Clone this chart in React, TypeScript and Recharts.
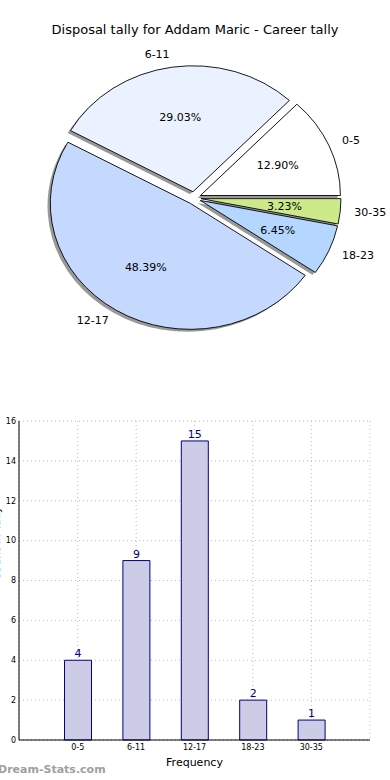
import React from 'react';
import { PieChart, Pie, BarChart, Bar, XAxis, YAxis, CartesianGrid, LabelList } from 'recharts';

const categories = ['0-5', '6-11', '12-17', '18-23', '30-35'];
const counts = [4, 9, 15, 2, 1];
const sliceColors = ['#FFFFFF', '#EBF2FF', '#C5D9FF', '#B4D6FF', '#CDEA8A'];
const yTicks = [0, 2, 4, 6, 8, 10, 12, 14, 16];

const pieData = categories.map((name, i) => ({ name, count: counts[i], fill: sliceColors[i] }));
const barData = categories.map((name, i) => ({ name, count: counts[i] }));

const FONT = '"DejaVu Sans", sans-serif';
const RAD = Math.PI / 180;
const SCALE_Y = 0.9;
const EXPLODE = 7;

function explodeCenter(cx: number, cy: number, mid: number) {
  return [cx + EXPLODE * Math.cos(mid * RAD), cy - EXPLODE * SCALE_Y * Math.sin(mid * RAD)];
}

function sectorPath(cx: number, cy: number, r: number, start: number, end: number, ox: number, oy: number) {
  const mid = (start + end) / 2;
  const [ex0, ey0] = explodeCenter(cx, cy, mid);
  const ex = ex0 + ox;
  const ey = ey0 + oy;
  const rx = r;
  const ry = r * SCALE_Y;
  const x1 = ex + rx * Math.cos(start * RAD);
  const y1 = ey - ry * Math.sin(start * RAD);
  const x2 = ex + rx * Math.cos(end * RAD);
  const y2 = ey - ry * Math.sin(end * RAD);
  const large = Math.abs(end - start) > 180 ? 1 : 0;
  return `M${ex},${ey} L${x1},${y1} A${rx},${ry} 0 ${large} 0 ${x2},${y2} Z`;
}

const SliceShape = (props: any) => {
  const { cx, cy, outerRadius, startAngle, endAngle, fill } = props;
  return (
    <path
      d={sectorPath(cx, cy, outerRadius, startAngle, endAngle, 0, 0)}
      fill={fill}
      stroke="#000"
      strokeWidth={0.9}
      strokeLinejoin="round"
    />
  );
};

const ShadowShape = (props: any) => {
  const { cx, cy, outerRadius, startAngle, endAngle } = props;
  return (
    <path
      d={sectorPath(cx, cy, outerRadius, startAngle, endAngle, -2.8, 2.5)}
      fill="#000"
      fillOpacity={0.4}
      stroke="none"
    />
  );
};

const renderLabel = (props: any) => {
  const { cx, cy, outerRadius, midAngle, percent, name } = props;
  const [ex, ey] = explodeCenter(cx, cy, midAngle);
  const rx = outerRadius;
  const ry = outerRadius * SCALE_Y;
  const px = ex + 0.6 * rx * Math.cos(midAngle * RAD);
  const py = ey - 0.6 * ry * Math.sin(midAngle * RAD);
  const lx = ex + 1.1 * rx * Math.cos(midAngle * RAD);
  const ly = ey - 1.1 * ry * Math.sin(midAngle * RAD);
  const anchor = lx > ex ? 'start' : 'end';
  return (
    <g>
      <text x={px} y={py} textAnchor="middle" dominantBaseline="central" fontSize={11} fontFamily={FONT} fill="#000">
        {(percent * 100).toFixed(2) + '%'}
      </text>
      <text x={lx} y={ly} textAnchor={anchor} dominantBaseline="central" fontSize={11} fontFamily={FONT} fill="#000">
        {name}
      </text>
    </g>
  );
};

export default function App() {
  return (
    <div style={{ position: 'absolute', left: 0, top: 0, width: 390, height: 780, background: '#fff', overflow: 'hidden', fontFamily: FONT }}>
      <div style={{ position: 'absolute', left: 0, top: 22, width: 390, textAlign: 'center', fontSize: 13, fontFamily: FONT, color: '#000' }}>
        Disposal tally for Addam Maric - Career tally
      </div>
      <div style={{ position: 'absolute', left: 0, top: 0 }}>
        <PieChart width={390} height={400} margin={{ top: 0, right: 0, bottom: 0, left: 0 }}>
          <Pie
            data={pieData}
            dataKey="count"
            nameKey="name"
            cx={194}
            cy={198}
            outerRadius={140}
            startAngle={0}
            endAngle={360}
            shape={ShadowShape}
            activeShape={ShadowShape}
            inactiveShape={ShadowShape}
            label={false}
            labelLine={false}
            isAnimationActive={false}
          />
          <Pie
            data={pieData}
            dataKey="count"
            nameKey="name"
            cx={194}
            cy={198}
            outerRadius={140}
            startAngle={0}
            endAngle={360}
            shape={SliceShape}
            activeShape={SliceShape}
            inactiveShape={SliceShape}
            label={renderLabel}
            labelLine={false}
            isAnimationActive={false}
          />
        </PieChart>
      </div>
      <div style={{ position: 'absolute', left: 0, top: 400 }}>
        <BarChart width={390} height={380} data={barData} margin={{ top: 21, right: 20, bottom: 0, left: 0 }}>
          <XAxis
            dataKey="name"
            padding={{ left: 29.5, right: 29.5 }}
            interval={0}
            tickLine={false}
            tickSize={0}
            tickMargin={4}
            axisLine={{ stroke: '#000' }}
            tick={{ fontSize: 8, fill: '#000', fontFamily: FONT }}
            height={40}
            label={{ value: 'Frequency', position: 'insideBottom', offset: 14, fontSize: 11, fill: '#000', fontFamily: FONT }}
          />
          <XAxis xAxisId="top" orientation="top" dataKey="name" height={0} tick={false} tickLine={false} axisLine={{ stroke: '#000' }} />
          <YAxis
            domain={[0, 16]}
            ticks={yTicks}
            width={19}
            tickLine={false}
            tickSize={0}
            tickMargin={3}
            axisLine={{ stroke: '#000' }}
            tick={{ fontSize: 8, fill: '#000', fontFamily: FONT }}
            label={{ value: 'Count in Tally', angle: -90, position: 'insideLeft', dx: -9, fontSize: 11, fill: '#000', fontFamily: FONT }}
          />
          <YAxis yAxisId="right" orientation="right" domain={[0, 16]} width={0} tick={false} tickLine={false} axisLine={{ stroke: '#000' }} />
          <Bar dataKey="count" fill="#CCCCE6" stroke="#000080" strokeWidth={1} barSize={27} isAnimationActive={false}>
            <LabelList dataKey="count" position="top" offset={3} fill="#000080" fontSize={11} fontFamily={FONT} />
          </Bar>
          <CartesianGrid strokeDasharray="1 3" stroke="#b8b8b8" />
        </BarChart>
      </div>
      <div style={{ position: 'absolute', left: -2, top: 763, fontSize: 11, fontWeight: 'bold', color: '#a0a0a0', fontFamily: FONT }}>
        Dream-Stats.com
      </div>
    </div>
  );
}
